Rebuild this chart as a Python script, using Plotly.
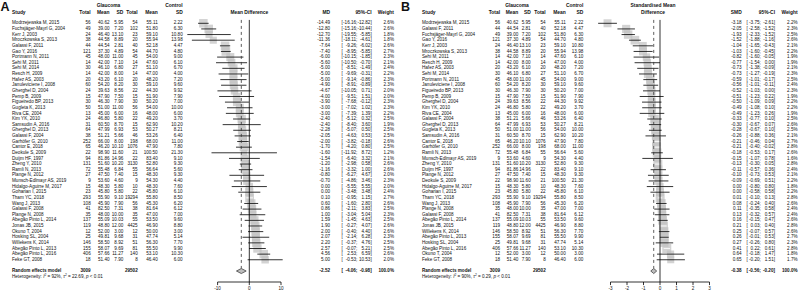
import math
import plotly.graph_objects as go

# ---------------- Panel A data (Mean Difference) ----------------
study_a = ["Modrzejewska M, 2015", "Fuchsjäger-Mayrl G, 2004", "Kerr J, 2003", "Mroczkowska S, 2013",
           "Galassi F, 2011", "Gao Y, 2016", "Portmann N, 2011", "Sehi M, 2011", "Sehi M, 2014",
           "Resch H, 2009", "Hafez AS, 2003", "Januleviciene I, 2008", "Gherghel D, 2004", "Pemp B, 2009",
           "Figueiredo BP, 2013", "Gugleta K, 2013", "Riva CE, 2004", "Kim YK, 2010", "Samsudin A, 2016",
           "Gherghel D, 2013", "Galassi F, 2004", "Garhöfer G, 2010", "Cantor E, 2018", "Deokule S, 2009",
           "Duijm HF, 1997", "Zheng Y, 2010", "Ramli N, 2013", "Plange N, 2012", "Munsch-Edlmayr AS, 2019",
           "Hidalgo-Aguirre M, 2017", "Goharian I, 2015", "Tham YC, 2018", "Wang J, 2013", "Galassi F, 2008",
           "Plange N, 2008", "Abegão Pinto L, 2014", "Jonas JB, 2015", "Okuno T, 2004", "Hosking SL, 2004",
           "Willekens K, 2014", "Abegão Pinto L, 2013", "Abegão Pinto L, 2016", "Feke GT, 2008"]
g_n_a = [56, 49, 24, 38, 44, 121, 45, 14, 30, 14, 20, 60, 24, 15, 30, 50, 13, 24, 31, 64, 38, 252, 65, 22,
         94, 131, 72, 27, 9, 15, 23, 293, 108, 41, 35, 137, 119, 12, 25, 146, 155, 406, 18]
g_mean_a = [40.62, 39.00, 46.40, 44.58, 44.54, 37.30, 48.00, 42.00, 46.10, 42.00, 43.20, 54.20, 39.63, 47.90,
            46.30, 51.00, 45.00, 46.80, 60.50, 47.99, 51.21, 66.00, 46.20, 98.90, 81.86, 51.60, 55.48, 47.50,
            53.60, 48.30, 45.80, 55.90, 45.90, 82.50, 48.00, 55.09, 48.80, 52.00, 49.81, 58.50, 58.07, 57.66, 51.40]
g_sd_a = [5.95, 7.20, 13.10, 8.89, 2.81, 4.89, 11.00, 7.10, 6.80, 8.00, 6.10, 8.20, 8.56, 7.50, 7.90, 11.00,
          6.00, 5.80, 8.70, 6.93, 5.66, 8.00, 10.10, 11.60, 14.96, 10.20, 6.84, 7.40, 4.60, 5.80, 5.80, 9.10,
          7.90, 7.31, 10.00, 10.03, 12.00, 3.00, 9.68, 8.92, 9.69, 11.27, 7.90]
c_n_a = [54, 102, 23, 20, 40, 54, 45, 14, 27, 14, 20, 30, 22, 15, 30, 56, 16, 22, 15, 53, 46, 198, 1076, 21,
         22, 3130, 55, 15, 9, 10, 22, 19294, 56, 38, 35, 55, 4425, 12, 31, 51, 81, 140, 8]
c_mean_a = [55.11, 51.80, 59.10, 55.94, 52.18, 44.70, 54.00, 47.60, 51.10, 47.00, 48.20, 59.10, 44.30, 51.90,
            50.20, 54.00, 48.00, 49.20, 62.90, 50.27, 53.26, 68.00, 47.90, 100.50, 83.40, 52.80, 56.64, 48.30,
            54.30, 48.30, 45.80, 55.80, 45.30, 81.64, 47.00, 53.50, 46.90, 50.00, 47.74, 56.30, 55.50, 53.10, 46.40]
c_sd_a = [2.22, 6.30, 10.80, 13.98, 4.47, 4.80, 9.00, 6.10, 6.70, 4.00, 7.20, 9.60, 9.92, 7.90, 7.00, 10.00,
          6.00, 3.70, 10.20, 8.21, 6.40, 11.00, 7.80, 21.30, 9.10, 9.30, 5.60, 9.30, 4.40, 7.60, 6.10, 8.50,
          6.20, 6.12, 7.00, 9.60, 8.80, 3.00, 5.14, 7.70, 9.90, 10.30, 6.00]
md_a = [-14.49, -12.80, -12.70, -11.36, -7.64, -7.40, -6.00, -5.60, -5.00, -5.00, -5.00, -4.90, -4.67, -4.00,
        -3.90, -3.00, -3.00, -2.40, -2.40, -2.28, -2.05, -2.00, -1.70, -1.60, -1.54, -1.20, -1.16, -0.80,
        -0.70, 0.00, 0.00, 0.10, 0.60, 0.86, 1.00, 1.59, 1.90, 2.00, 2.07, 2.20, 2.57, 4.56, 5.00]
md_lo_a = [-16.16, -15.16, -19.55, -18.11, -9.26, -8.95, -10.15, -10.50, -8.51, -9.69, -9.14, -8.91, -10.05,
           -9.51, -7.68, -7.02, -7.39, -5.12, -8.40, -5.07, -4.63, -3.82, -4.20, -11.92, -6.40, -2.98, -3.32,
           -6.27, -4.86, -5.55, -3.48, -0.95, -1.60, -2.11, -3.04, -1.45, -0.27, -0.40, -2.14, -0.37, -0.07,
           2.53, -0.53]
md_hi_a = [-12.82, -10.44, -5.85, -4.61, -6.02, -5.85, -1.85, -0.70, -1.49, -0.31, -0.86, -0.89, 0.71, 1.51,
           -0.12, 1.02, 1.39, 0.32, 3.60, 0.50, 0.53, -0.18, 0.80, 8.72, 3.32, 0.58, 1.00, 4.67, 3.46, 5.55,
           3.48, 1.15, 2.80, 3.83, 5.04, 4.63, 4.07, 4.40, 6.28, 4.76, 5.21, 6.59, 10.53]
w_a = [2.6, 2.6, 1.8, 1.8, 2.6, 2.7, 2.3, 2.1, 2.4, 2.2, 2.3, 2.3, 2.0, 2.0, 2.3, 2.3, 2.2, 2.5, 1.9, 2.5,
       2.5, 2.6, 2.5, 1.2, 2.1, 2.6, 2.6, 2.0, 2.3, 2.0, 2.4, 2.7, 2.6, 2.5, 2.3, 2.5, 2.6, 2.6, 2.3, 2.5,
       2.5, 2.6, 2.0]
pooled_a = [-2.52, -4.06, -0.98]
total_g_a, total_c_a = 3009, 29502
het_a = "Heterogeneity: <i>I</i><sup>2</sup> = 92%, <i>τ</i><sup>2</sup> = 22.69, <i>p</i> &lt; 0.01"
ticks_a = [-10, 0, 10]

# ---------------- Panel B data (Standardised Mean Difference) ----------------
study_b = ["Modrzejewska M, 2015", "Galassi F, 2011", "Fuchsjäger-Mayrl G, 2004", "Gao Y, 2016", "Kerr J, 2003",
           "Mroczkowska S, 2013", "Sehi M, 2011", "Resch H, 2009", "Hafez AS, 2003", "Sehi M, 2014",
           "Portmann N, 2011", "Januleviciene I, 2008", "Figueiredo BP, 2013", "Pemp B, 2009",
           "Gherghel D, 2004", "Kim YK, 2010", "Riva CE, 2004", "Galassi F, 2004", "Gherghel D, 2013",
           "Gugleta K, 2013", "Samsudin A, 2016", "Cantor E, 2018", "Garhöfer G, 2010", "Ramli N, 2013",
           "Munsch-Edlmayr AS, 2019", "Zheng Y, 2010", "Duijm HF, 1997", "Plange N, 2012", "Deokule S, 2009",
           "Hidalgo-Aguirre M, 2017", "Goharian I, 2015", "Tham YC, 2018", "Wang J, 2013", "Plange N, 2008",
           "Galassi F, 2008", "Abegão Pinto L, 2014", "Jonas JB, 2015", "Willekens K, 2014",
           "Abegão Pinto L, 2013", "Hosking SL, 2004", "Abegão Pinto L, 2016", "Okuno T, 2004", "Feke GT, 2008"]
smd_b = [-3.18, -2.05, -1.93, -1.52, -1.04, -1.03, -0.82, -0.77, -0.73, -0.73, -0.59, -0.56, -0.52, -0.51,
         -0.50, -0.49, -0.49, -0.33, -0.30, -0.28, -0.26, -0.21, -0.21, -0.18, -0.15, -0.13, -0.11, -0.10,
         -0.09, 0.00, 0.00, 0.01, 0.08, 0.11, 0.13, 0.16, 0.21, 0.25, 0.26, 0.27, 0.41, 0.64, 0.65]
smd_lo_b = [-3.75, -2.58, -2.33, -1.88, -1.65, -1.60, -1.60, -1.54, -1.38, -1.27, -1.01, -1.01, -1.03, -1.23,
            -1.09, -1.08, -1.23, -0.77, -0.67, -0.67, -0.88, -0.46, -0.40, -0.53, -1.07, -0.30, -0.57, -0.73,
            -0.69, -0.80, -0.58, -0.10, -0.24, -0.35, -0.32, -0.15, 0.03, -0.07, -0.01, -0.26, 0.22, -0.18,
            -0.20]
smd_hi_b = [-2.61, -1.52, -1.52, -1.16, -0.43, -0.45, -0.05, 0.00, -0.09, -0.19, -0.17, -0.11, 0.00, 0.22,
            0.09, 0.10, 0.26, 0.10, 0.07, 0.10, 0.36, 0.04, -0.02, 0.17, 0.78, 0.05, 0.36, 0.53, 0.51, 0.80,
            0.58, 0.13, 0.40, 0.58, 0.57, 0.47, 0.40, 0.57, 0.53, 0.80, 0.61, 1.47, 1.51]
w_b = [2.2, 2.3, 2.5, 2.6, 2.1, 2.2, 1.9, 1.9, 2.1, 2.3, 2.5, 2.4, 2.3, 1.9, 2.2, 2.2, 1.9, 2.5, 2.6, 2.5,
       2.1, 2.7, 2.8, 2.6, 1.6, 2.8, 2.4, 2.1, 2.2, 1.8, 2.2, 2.8, 2.6, 2.4, 2.4, 2.6, 2.8, 2.6, 2.7, 2.3,
       2.8, 1.8, 1.7]
pooled_b = [-0.38, -0.56, -0.20]
total_g_b, total_c_b = 3009, 29502
het_b = "Heterogeneity: <i>I</i><sup>2</sup> = 90%, <i>τ</i><sup>2</sup> = 0.29, <i>p</i> &lt; 0.01"
ticks_b = [-3, -2, -1, 0, 1, 2, 3]

# descriptive columns for panel B, looked up from the panel A table
_lookup = {s: (g_n_a[i], g_mean_a[i], g_sd_a[i], c_n_a[i], c_mean_a[i], c_sd_a[i]) for i, s in enumerate(study_a)}
g_n_b = [_lookup[s][0] for s in study_b]
g_mean_b = [_lookup[s][1] for s in study_b]
g_sd_b = [_lookup[s][2] for s in study_b]
c_n_b = [_lookup[s][3] for s in study_b]
c_mean_b = [_lookup[s][4] for s in study_b]
c_sd_b = [_lookup[s][5] for s in study_b]

# ---------------- layout geometry ----------------
W, H = 798, 295
Y0, S = 23.3, 5.63          # first row centre (px) and row pitch (px)
FONT = "Liberation Sans, Arial, Helvetica, sans-serif"
FS = 4.6
FSH = 4.9
TXT = "#111111"
SQ = "#C0C0C0"

N = len(study_a)
rows = list(range(N))
RE_ROW = N + 1.0
HET_ROW = N + 2.0
AX_ROW = N + 2.95
TICKLAB_ROW = N + 4.25
HDR_ROW = -1.95
GRP_ROW = -3.05

# forest scales: zero position (px) and px per unit
A_ZERO, A_SCALE = 249.3, 3.17
B_ZERO, B_SCALE = 660.0, 16.5

colA = dict(study=12, gn=90.7, gm=109.5, gsd=123.3, cn=137.7, cm=157.7, csd=182.7,
            glab=108.5, clab=182.7, est=330.0, cil=341.6, cim=357.4, cir=371.7, w=394.0,
            title_x=249.3)
colB = dict(study=422, gn=500.0, gm=518.3, gsd=530.7, cn=545.7, cm=565.7, csd=583.3,
            glab=517.0, clab=583.3, est=741.7, cil=746.5, cim=760.8, cir=775.0, w=797.6,
            title_x=653.0)

fig = go.Figure()


def ttrace(xs, ys, texts, pos, size=FS, bold=False):
    if bold:
        texts = ["<b>%s</b>" % t for t in texts]
    fig.add_trace(go.Scatter(x=xs, y=ys, text=texts, mode="text", textposition=pos,
                             textfont=dict(family=FONT, size=size, color=TXT),
                             xaxis="x3", yaxis="y", hoverinfo="skip", showlegend=False))


def f2(v):
    return "%.2f" % v


def panel(xa, col, study, gn, gm, gsd, cn, cm, csd, est, lo, hi, w, pooled, tg, tc, het, ticks,
          scale, est_label, title, letter, letter_x, wmax, smax):
    # ---- forest marks ----
    sides = [smax * math.sqrt(wi / wmax) for wi in w]
    fig.add_trace(go.Scatter(x=est, y=rows, mode="markers",
                             marker=dict(symbol="square", size=sides, color=SQ, line=dict(width=0)),
                             xaxis=xa, yaxis="y", hoverinfo="skip", showlegend=False))
    bx, by, wx, wy = [], [], [], []
    for i in range(len(est)):
        if (hi[i] - lo[i]) * scale < sides[i]:
            wx += [lo[i], hi[i], None]
            wy += [i, i, None]
        else:
            bx += [lo[i], hi[i], None]
            by += [i, i, None]
    fig.add_trace(go.Scatter(x=bx, y=by, mode="lines", line=dict(color="black", width=0.8),
                             xaxis=xa, yaxis="y", hoverinfo="skip", showlegend=False))
    fig.add_trace(go.Scatter(x=wx, y=wy, mode="lines", line=dict(color="white", width=0.8),
                             xaxis=xa, yaxis="y", hoverinfo="skip", showlegend=False))
    # reference lines
    fig.add_trace(go.Scatter(x=[0, 0], y=[-0.6, AX_ROW], mode="lines",
                             line=dict(color="black", width=0.8),
                             xaxis=xa, yaxis="y", hoverinfo="skip", showlegend=False))
    fig.add_trace(go.Scatter(x=[pooled[0], pooled[0]], y=[-0.6, RE_ROW - 0.45], mode="lines",
                             line=dict(color="#333333", width=0.8, dash="dot"),
                             xaxis=xa, yaxis="y", hoverinfo="skip", showlegend=False))
    # diamond
    fig.add_trace(go.Scatter(x=[pooled[1], pooled[0], pooled[2], pooled[0], pooled[1]],
                             y=[RE_ROW, RE_ROW - 0.45, RE_ROW, RE_ROW + 0.45, RE_ROW],
                             mode="lines", fill="toself", fillcolor="#BDBDBD",
                             line=dict(color="#444444", width=0.8),
                             xaxis=xa, yaxis="y", hoverinfo="skip", showlegend=False))
    # axis
    axx = [ticks[0], ticks[-1], None]
    axy = [AX_ROW, AX_ROW, None]
    for t in ticks:
        axx += [t, t, None]
        axy += [AX_ROW, AX_ROW + 0.55, None]
    fig.add_trace(go.Scatter(x=axx, y=axy, mode="lines", line=dict(color="black", width=0.8),
                             xaxis=xa, yaxis="y", hoverinfo="skip", showlegend=False))
    fig.add_trace(go.Scatter(x=ticks, y=[TICKLAB_ROW] * len(ticks), text=[str(t) for t in ticks],
                             mode="text", textposition="middle center",
                             textfont=dict(family=FONT, size=FS, color=TXT),
                             xaxis=xa, yaxis="y", hoverinfo="skip", showlegend=False))

    # ---- table text ----
    n = len(study)
    ttrace([col["study"]] * n, rows, study, "middle right")
    ttrace([col["gn"]] * n, rows, [str(v) for v in gn], "middle left")
    ttrace([col["gm"]] * n, rows, [f2(v) for v in gm], "middle left")
    ttrace([col["gsd"]] * n, rows, [f2(v) for v in gsd], "middle left")
    ttrace([col["cn"]] * n, rows, [str(v) for v in cn], "middle left")
    ttrace([col["cm"]] * n, rows, [f2(v) for v in cm], "middle left")
    ttrace([col["csd"]] * n, rows, [f2(v) for v in csd], "middle left")
    ttrace([col["est"]] * n, rows, [f2(v) for v in est], "middle left")
    ttrace([col["cil"]] * n, rows, ["["] * n, "middle right")
    ttrace([col["cim"]] * n, rows, [f2(v) + ";" for v in lo], "middle left")
    ttrace([col["cir"]] * n, rows, [f2(v) + "]" for v in hi], "middle left")
    ttrace([col["w"]] * n, rows, ["%.1f%%" % v for v in w], "middle left")

    # headers
    ttrace([col["study"]], [HDR_ROW], ["Study"], "middle right", FSH, True)
    ttrace([col["gn"], col["gm"], col["gsd"], col["cn"], col["cm"], col["csd"]], [HDR_ROW] * 6,
           ["Total", "Mean", "SD", "Total", "Mean", "SD"], "middle left", FSH, True)
    ttrace([col["glab"]], [GRP_ROW], ["Glaucoma"], "middle center", FSH, True)
    ttrace([col["clab"]], [GRP_ROW], ["Control"], "middle left", FSH, True)
    ttrace([col["est"], col["cir"], col["w"]], [HDR_ROW] * 3, [est_label, "95%-CI", "Weight"],
           "middle left", FSH, True)
    ttrace([col["title_x"]], [HDR_ROW if "<br>" not in title else (HDR_ROW + GRP_ROW) / 2], [title],
           "middle center", FSH, True)

    # pooled row
    ttrace([col["study"]], [RE_ROW], ["Random effects model"], "middle right", FS, True)
    ttrace([col["gn"], col["cn"]], [RE_ROW] * 2, [str(tg), str(tc)], "middle left", FS, True)
    ttrace([col["est"]], [RE_ROW], [f2(pooled[0])], "middle left", FS, True)
    ttrace([col["cil"]], [RE_ROW], ["["], "middle right", FS, True)
    ttrace([col["cim"]], [RE_ROW], [f2(pooled[1]) + ";"], "middle left", FS, True)
    ttrace([col["cir"]], [RE_ROW], [f2(pooled[2]) + "]"], "middle left", FS, True)
    ttrace([col["w"]], [RE_ROW], ["100.0%"], "middle left", FS, True)
    ttrace([col["study"]], [HET_ROW], [het], "middle right", FS)

    # panel letter
    ttrace([letter_x], [GRP_ROW + 0.35], [letter], "middle right", 12.5, True)


panel("x", colA, study_a, g_n_a, g_mean_a, g_sd_a, c_n_a, c_mean_a, c_sd_a, md_a, md_lo_a, md_hi_a, w_a,
      pooled_a, total_g_a, total_c_a, het_a, ticks_a, A_SCALE, "MD", "Mean Difference", "A", 0.6,
      max(w_a), 8.7)
panel("x2", colB, study_b, g_n_b, g_mean_b, g_sd_b, c_n_b, c_mean_b, c_sd_b, smd_b, smd_lo_b, smd_hi_b, w_b,
      pooled_b, total_g_b, total_c_b, het_b, ticks_b, B_SCALE, "SMD", "Standardised Mean<br>Difference",
      "B", 401.0, max(w_b), 9.0)

hidden = dict(visible=False, showgrid=False, zeroline=False, domain=[0, 1])
fig.update_layout(
    width=W, height=H, autosize=False,
    margin=dict(l=0, r=0, t=0, b=0, pad=0),
    paper_bgcolor="white", plot_bgcolor="white",
    showlegend=False,
    hovermode=False,
    xaxis=dict(range=[-A_ZERO / A_SCALE, (W - A_ZERO) / A_SCALE], **hidden),
    xaxis2=dict(range=[-B_ZERO / B_SCALE, (W - B_ZERO) / B_SCALE], overlaying="x", anchor="y", **hidden),
    xaxis3=dict(range=[0, W], overlaying="x", anchor="y", **hidden),
    yaxis=dict(range=[(H - Y0) / S, -Y0 / S], visible=False, showgrid=False, zeroline=False, domain=[0, 1]),
)

# remove the default 8px page margin so the 798x295 figure fills the window exactly
fig.write_html("out.html", config={"displayModeBar": False, "staticPlot": True},
               post_script="document.body.style.margin='0px';document.body.style.overflow='hidden';")
